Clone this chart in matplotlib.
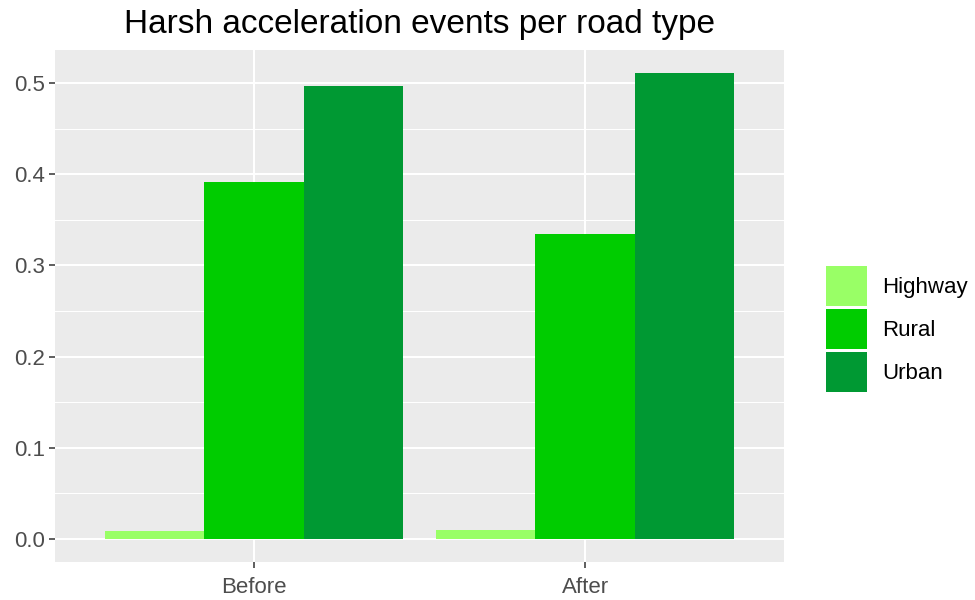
import matplotlib

matplotlib.use("Agg")
import matplotlib.pyplot as plt
import numpy as np

plt.rcParams['font.family'] = ['Liberation Sans', 'DejaVu Sans']

# data
periods = ["Before", "After"]
road_types = ["Highway", "Rural", "Urban"]
highway = [0.009, 0.010]
rural = [0.392, 0.334]
urban = [0.497, 0.511]
colors = ["#99FF66", "#00CC00", "#009933"]

fig = plt.figure(figsize=(9.75, 6), dpi=100)
ax = fig.add_axes([55 / 975, 1 - 562 / 600, (784 - 55) / 975, (562 - 50) / 600])
ax.set_facecolor("#EBEBEB")

x = np.arange(1, len(periods) + 1)
w = 0.3
for i, (vals, name) in enumerate(zip([highway, rural, urban], road_types)):
    ax.bar(x + (i - 1) * w, vals, width=w, color=colors[i], label=name, zorder=3)

ymax = max(max(highway), max(rural), max(urban))
ax.set_xlim(0.4, 2.6)
ax.set_ylim(-0.05 * ymax, 1.05 * ymax)

ax.set_yticks(np.arange(0, 0.51, 0.1))
ax.set_yticks(np.arange(0.05, 0.51, 0.1), minor=True)
ax.set_xticks(x)
ax.set_xticklabels(periods)
ax.set_yticklabels(["%.1f" % v for v in np.arange(0, 0.51, 0.1)])

ax.grid(True, which="major", color="white", linewidth=1.5, zorder=1)
ax.grid(True, which="minor", axis="y", color="white", linewidth=0.75, zorder=1)
ax.set_axisbelow(True)
for s in ax.spines.values():
    s.set_visible(False)
ax.tick_params(axis="both", which="major", length=4, width=1.1, color="#333333",
               labelsize=16, labelcolor="#4D4D4D", pad=3)
ax.tick_params(axis="x", which="major", pad=7)
ax.tick_params(axis="y", which="minor", length=0)

fig.text(419 / 975, 1 - 24 / 600, "Harsh acceleration events per road type",
         ha="center", va="center", fontsize=24, color="black")

leg = ax.legend(loc="center left", bbox_to_anchor=(826 / 975, 1 - 329 / 600),
                bbox_transform=fig.transFigure, frameon=False, fontsize=16,
                handlelength=1.85, handleheight=2.4, labelspacing=0.14,
                handletextpad=0.68, borderpad=0, borderaxespad=0)

plt.savefig("out.png", dpi=100)
